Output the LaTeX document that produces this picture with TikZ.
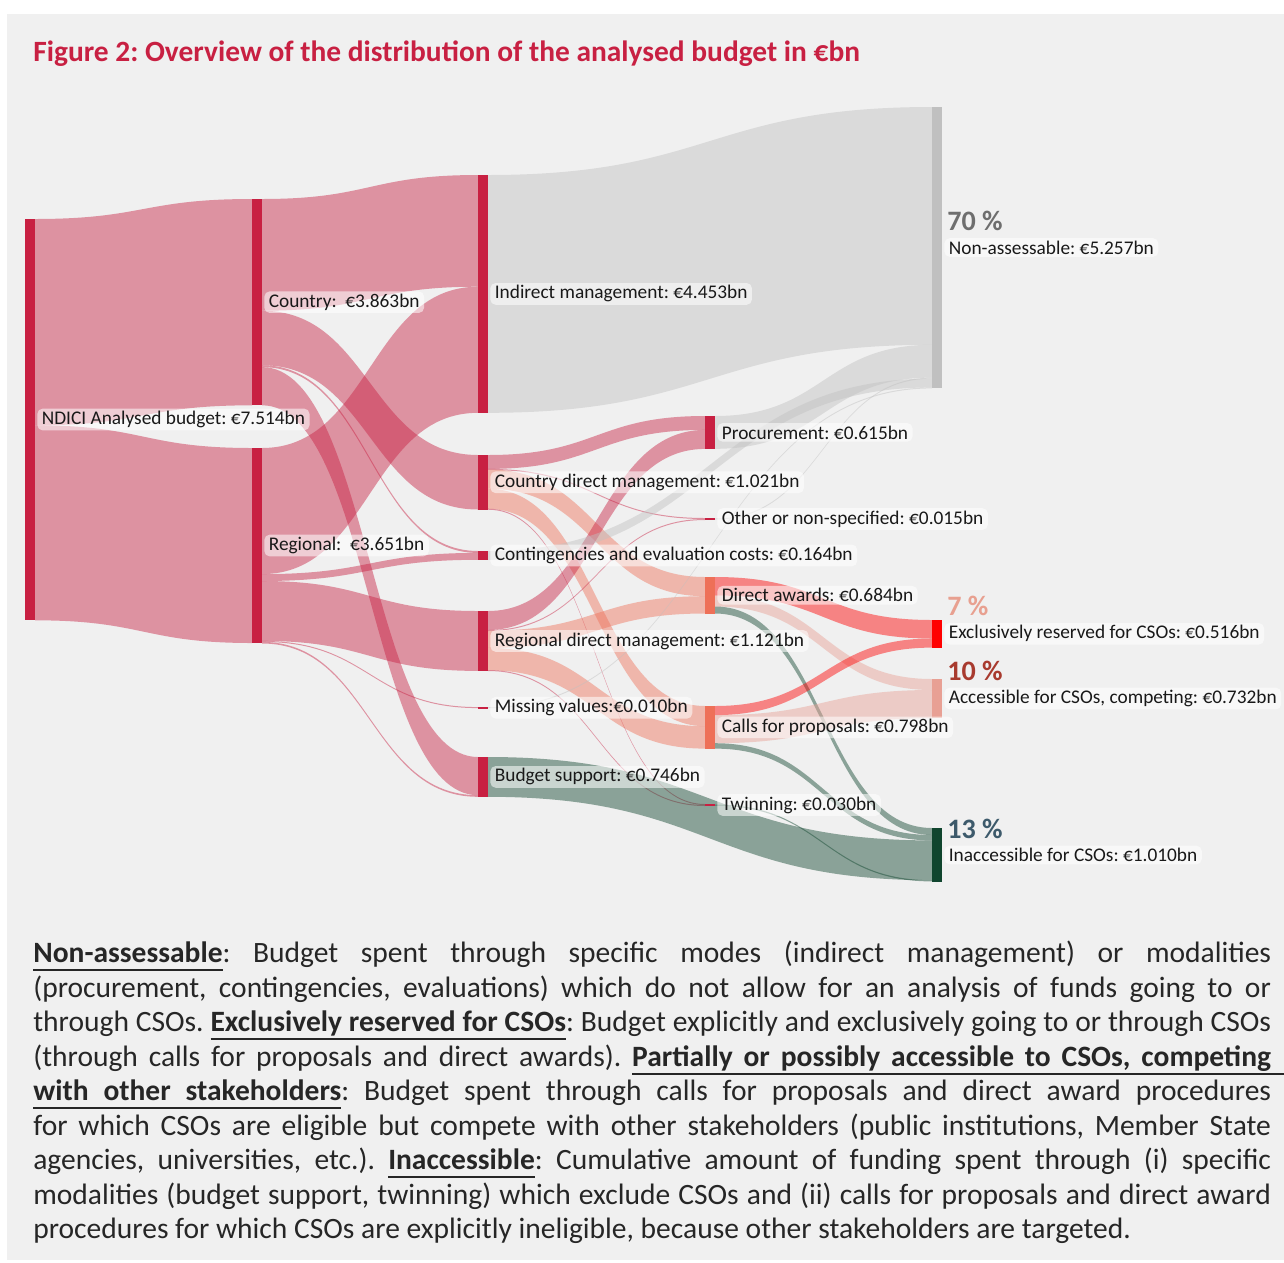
\documentclass[tikz,border=0pt]{standalone}
\usepackage{fontspec}
\setmainfont{Carlito}
\usetikzlibrary{calc,positioning,fit}
\frenchspacing

\definecolor{panel}{HTML}{F0F0F0}
\definecolor{crim}{HTML}{C82042}
\definecolor{salm}{HTML}{EE7058}
\definecolor{nagray}{HTML}{C0C0C0}
\definecolor{exred}{HTML}{FF0000}
\definecolor{accpink}{HTML}{E8A094}
\definecolor{inacgreen}{HTML}{10452E}
\definecolor{pcgray}{HTML}{6E6E6E}
\definecolor{pcsalm}{HTML}{E8A090}
\definecolor{pcred}{HTML}{A83A2E}
\definecolor{pcblue}{HTML}{3D5A6B}

\pgfdeclarelayer{back}
\pgfdeclarelayer{flows}
\pgfsetlayers{back,flows,main}

% band from #1 (offset #2) to #3 (offset #4), width #5, colour #6
\newcommand\band[6]{%
  \path ($(#1.north east)+(0,#2)$) coordinate (s1)
        ($(#3.north west)+(0,#4)$) coordinate (t1)
        ($(s1)+(0,#5)$) coordinate (s2)
        ($(t1)+(0,#5)$) coordinate (t2)
        ($(s1)!.5!(t1)$) coordinate (mid);
  \fill[lk=#6] (s1) .. controls (mid|-s1) and (mid|-t1) .. (t1)
    -- (t2) .. controls (mid|-t2) and (mid|-s2) .. (s2) -- cycle;}

% bold underlined words, underlined stretchable space
\newcommand\ulterm[1]{\setbox0=\hbox{\bfseries #1}\rlap{\rule[-4.8pt]{\wd0}{1.1pt}}\box0}
\newcommand\ulsp{\leaders\hrule height -3.7pt depth 4.8pt\hskip\fontdimen2\font plus\fontdimen3\font minus\fontdimen4\font\relax}

\begin{document}
\begin{tikzpicture}[
  x=0.02cm, y=-0.02cm,
  bar/.style={fill=#1, draw=none, inner sep=0pt, outer sep=0pt},
  lk/.style={fill=#1, fill opacity=.45, draw=none},
  lbl/.style={fill=white, fill opacity=.55, text opacity=1, rounded corners=3pt,
    inner xsep=0.09cm, inner ysep=0.05cm, text=black!90,
    font=\fontsize{11}{13}\selectfont},
  pct/.style={text=#1, inner sep=0pt, font=\bfseries\fontsize{16}{18}\selectfont},
  ttl/.style={text=crim, inner sep=0pt, font=\bfseries\fontsize{16.75}{19}\selectfont},
  para/.style={text width=24.76cm, align=justify, inner sep=0pt, text=black!85,
    font=\fontsize{16.8}{19.6}\selectfont},
]

\begin{pgfonlayer}{back}
\fill[panel] (7,14) rectangle (1284,1260);
\end{pgfonlayer}
\useasboundingbox (0,0) rectangle (1284,1262);

\node[ttl, anchor=base west] (title) at (33,61) {Figure 2: Overview of the distribution of the analysed budget in €bn};

% Bars
\node[bar=crim, fit={(25,219) (35,620)}] (ndici) {};
\node[bar=crim, fit={(252,199) (262,405.3)}] (cty) {};
\node[bar=crim, fit={(252,448) (262,643)}] (reg) {};
\node[bar=crim, fit={(478,175) (488,412.8)}] (ind) {};
\node[bar=crim, fit={(478,455) (488,509.5)}] (cdm) {};
\node[bar=crim, fit={(478,551) (488,559.8)}] (cont) {};
\node[bar=crim, fit={(478,611) (488,670.9)}] (rdm) {};
\node[bar=crim, fit={(478,707) (488,708.5)}] (miss) {};
\node[bar=crim, fit={(478,757) (488,796.8)}] (bs) {};
\node[bar=crim, fit={(705,416) (715,448.8)}] (proc) {};
\node[bar=crim, fit={(705,518) (715,520)}] (other) {};
\node[bar=salm, fit={(705,577) (715,613.5)}] (da) {};
\node[bar=salm, fit={(705,706) (715,748.6)}] (cfp) {};
\node[bar=crim, fit={(705,804) (715,806)}] (twin) {};
\node[bar=nagray, fit={(932,107) (942,388)}] (nonass) {};
\node[bar=exred, fit={(932,620) (942,647.6)}] (excl) {};
\node[bar=accpink, fit={(932,679) (942,718.1)}] (acc) {};
\node[bar=inacgreen, fit={(932,828) (942,882)}] (inacc) {};

% Flows
\begin{pgfonlayer}{flows}
\band{ndici}{0}{cty}{0}{206.3}{crim}
\band{ndici}{206.3}{reg}{0}{195}{crim}

\band{cty}{0}{ind}{0}{111.7}{crim}
\band{cty}{111.7}{cdm}{0}{54.5}{crim}
\band{cty}{166.2}{cont}{0}{1.9}{crim}
\band{cty}{168.1}{bs}{0}{38.2}{crim}
\band{reg}{0}{ind}{111.7}{126.1}{crim}
\band{reg}{126.1}{cont}{1.9}{6.9}{crim}
\band{reg}{133}{rdm}{0}{59.9}{crim}
\band{reg}{192.9}{miss}{0.2}{1}{crim}
\band{reg}{193.9}{bs}{38.2}{1.6}{crim}

\band{cdm}{0}{proc}{0}{13.9}{crim}
\band{cdm}{13.9}{other}{0}{1}{crim}
\band{cdm}{14.5}{da}{0}{19.2}{salm}
\band{cdm}{33.7}{cfp}{0}{20.2}{salm}
\band{cdm}{53.7}{twin}{0}{1}{crim}
\band{rdm}{0}{proc}{13.9}{19}{crim}
\band{rdm}{19}{other}{1}{1}{crim}
\band{rdm}{19.6}{da}{19.2}{17.3}{salm}
\band{rdm}{36.9}{cfp}{20.2}{22.4}{salm}
\band{rdm}{59}{twin}{1}{1}{crim}

\band{ind}{0}{nonass}{0}{237.8}{nagray}
\band{proc}{0}{nonass}{237.8}{32.8}{nagray}
\band{other}{0.5}{nonass}{270.6}{1}{nagray}
\band{cont}{0}{nonass}{271.6}{8.8}{nagray}
\band{miss}{0.3}{nonass}{280.4}{1}{nagray}

\band{da}{0}{excl}{0}{18.5}{exred}
\band{da}{18.5}{acc}{0}{11}{accpink}
\band{da}{29.5}{inacc}{0}{7}{inacgreen}
\band{cfp}{0}{excl}{18.5}{9.1}{exred}
\band{cfp}{9.1}{acc}{11}{28.1}{accpink}
\band{cfp}{37.2}{inacc}{7}{5.4}{inacgreen}
\band{bs}{0}{inacc}{12.4}{39.8}{inacgreen}
\band{twin}{0.5}{inacc}{52.2}{1.2}{inacgreen}
\end{pgfonlayer}

% Labels
\node[lbl, right=0.04cm of ndici] (ndicilbl) {NDICI Analysed budget: €7.514bn};
\node[lbl, right=0.04cm of cty] (ctylbl) {Country:~~€3.863bn};
\node[lbl, right=0.04cm of reg] (reglbl) {Regional:~~€3.651bn};
\node[lbl, right=0.04cm of ind] (indlbl) {Indirect management: €4.453bn};
\node[lbl, right=0.04cm of cdm] (cdmlbl) {Country direct management: €1.021bn};
\node[lbl, right=0.04cm of cont] (contlbl) {Contingencies and evaluation costs: €0.164bn};
\node[lbl, right=0.04cm of rdm] (rdmlbl) {Regional direct management: €1.121bn};
\node[lbl, right=0.04cm of miss] (misslbl) {Missing values:€0.010bn};
\node[lbl, right=0.04cm of bs] (bslbl) {Budget support: €0.746bn};
\node[lbl, right=0.04cm of proc] (proclbl) {Procurement: €0.615bn};
\node[lbl, right=0.04cm of other] (otherlbl) {Other or non-specified: €0.015bn};
\node[lbl, right=0.04cm of da] (dalbl) {Direct awards: €0.684bn};
\node[lbl, right=0.04cm of cfp] (cfplbl) {Calls for proposals: €0.798bn};
\node[lbl, right=0.04cm of twin] (twinlbl) {Twinning: €0.030bn};
\node[lbl, right=0.04cm of nonass] (nalbl) {Non-assessable: €5.257bn};
\node[lbl, right=0.04cm of excl] (exlbl) {Exclusively reserved for CSOs: €0.516bn};
\node[lbl, right=0.04cm of acc] (acclbl) {Accessible for CSOs, competing: €0.732bn};
\node[lbl, right=0.04cm of inacc] (inlbl) {Inaccessible for CSOs: €1.010bn};

% Shares
\node[pct=pcgray, anchor=base west] (p70) at ($(nalbl.north west)+(3,-7)$) {70 \%};
\node[pct=pcsalm, anchor=base west] (p7) at ($(exlbl.north west)+(3,-7)$) {7 \%};
\node[pct=pcred, anchor=base west] (p10) at ($(acclbl.north west)+(3,-7)$) {10 \%};
\node[pct=pcblue, anchor=base west] (p13) at ($(inlbl.north west)+(3,-7)$) {13 \%};

% Notes
\node[para, anchor=north west] (notes) at (33,941) {%
\ulterm{Non-assessable}: Budget spent through specific modes (indirect management) or modalities\linebreak
(procurement, contingencies, evaluations) which do not allow for an analysis of funds going to or\linebreak
through CSOs. \ulterm{Exclusively}\ulsp\ulterm{reserved}\ulsp\ulterm{for}\ulsp\ulterm{CSOs}: Budget explicitly and exclusively going to or through CSOs\linebreak
(through calls for proposals and direct awards). \ulterm{Partially}\ulsp\ulterm{or}\ulsp\ulterm{possibly}\ulsp\ulterm{accessible}\ulsp\ulterm{to}\ulsp\ulterm{CSOs,}\ulsp\ulterm{competing}\rlap{\rule[-4.8pt]{0.26cm}{1.1pt}}\linebreak
\ulterm{with}\ulsp\ulterm{other}\ulsp\ulterm{stakeholders}: Budget spent through calls for proposals and direct award procedures\linebreak
for which CSOs are eligible but compete with other stakeholders (public institutions, Member State\linebreak
agencies, universities, etc.). \ulterm{Inaccessible}: Cumulative amount of funding spent through (i) specific\linebreak
modalities (budget support, twinning) which exclude CSOs and (ii) calls for proposals and direct award\linebreak
procedures for which CSOs are explicitly ineligible, because other stakeholders are targeted.};

\end{tikzpicture}
\end{document}
